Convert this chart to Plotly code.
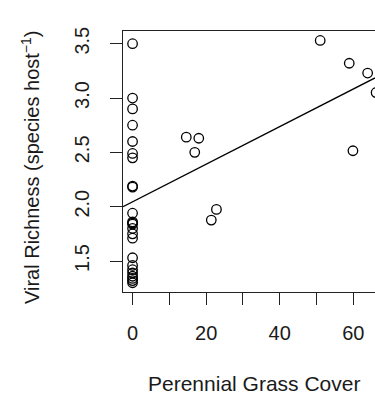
import plotly.graph_objects as go

# Data
grass_cover = [0, 0, 0, 0, 0, 0, 0, 0, 0, 0, 0, 0, 0, 0, 0, 0, 0, 0, 0, 0, 0, 0, 0, 0,
               14.6, 18.0, 16.9, 22.8, 21.4, 51.0, 58.9, 63.9, 66.2, 59.9]
viral_richness = [3.50, 3.00, 2.90, 2.75, 2.60, 2.49, 2.45, 2.19, 2.18, 1.94, 1.86, 1.85,
                  1.84, 1.80, 1.75, 1.71, 1.53, 1.46, 1.42, 1.39, 1.36, 1.34, 1.32, 1.30,
                  2.64, 2.63, 2.50, 1.975, 1.877, 3.53, 3.32, 3.23, 3.05, 2.515]

fit_intercept = 2.045
fit_slope = 0.0173

x_range = [-2.6, 65.9]
y_range = [1.215, 3.617]

x_tickvals = [0, 20, 40, 60]
x_ticktext = ["0", "20", "40", "60"]
x_minor_tickvals = [10, 30, 50]
y_tickvals = [1.5, 2.0, 2.5, 3.0, 3.5]
y_ticktext = ["1.5", "2.0", "2.5", "3.0", "3.5"]

x_title = "Perennial Grass Cover"
y_title = "Viral Richness (species host<sup>−1</sup>)"

FONT = "Liberation Sans, Arial, Helvetica, sans-serif"

fig = go.Figure()
fig.add_trace(go.Scatter(
    x=grass_cover, y=viral_richness, mode="markers",
    marker=dict(symbol="circle-open", size=9.5, color="black", line=dict(width=1.3, color="black")),
    showlegend=False, hoverinfo="skip",
))
fig.add_trace(go.Scatter(
    x=x_range, y=[fit_intercept + fit_slope * v for v in x_range], mode="lines",
    line=dict(color="black", width=1.3), showlegend=False, hoverinfo="skip",
))

fig.update_layout(
    width=375, height=395,
    margin=dict(l=123, r=0, t=31, b=103),
    paper_bgcolor="white", plot_bgcolor="white",
    font=dict(family=FONT, size=20, color="#1a1a1a"),
    xaxis=dict(range=x_range, showgrid=False, zeroline=False,
               showline=True, mirror=True, linecolor="#222", linewidth=1,
               ticks="outside", ticklen=12, tickwidth=1, tickcolor="#222",
               tickvals=x_tickvals, ticktext=x_ticktext,
               minor=dict(tickvals=x_minor_tickvals, ticks="outside", ticklen=12,
                          tickwidth=1, tickcolor="#222", showgrid=False),
               tickfont=dict(size=20), ticklabelstandoff=11),
    yaxis=dict(range=y_range, showgrid=False, zeroline=False,
               showline=True, mirror=False, linecolor="#222", linewidth=1,
               ticks="outside", ticklen=12, tickwidth=1, tickcolor="#222",
               tickvals=y_tickvals, ticktext=y_ticktext, tickangle=-90,
               tickfont=dict(size=20), ticklabelstandoff=13),
    annotations=[
        dict(text=x_title, xref="paper", yref="paper", x=0.519, y=-0.35,
             xanchor="center", yanchor="middle", showarrow=False, font=dict(size=21)),
        dict(text=y_title, xref="paper", yref="paper", x=-0.37, y=0.478, textangle=-90,
             xanchor="center", yanchor="middle", showarrow=False, font=dict(size=20)),
    ],
)

fig.write_html("out.html")
